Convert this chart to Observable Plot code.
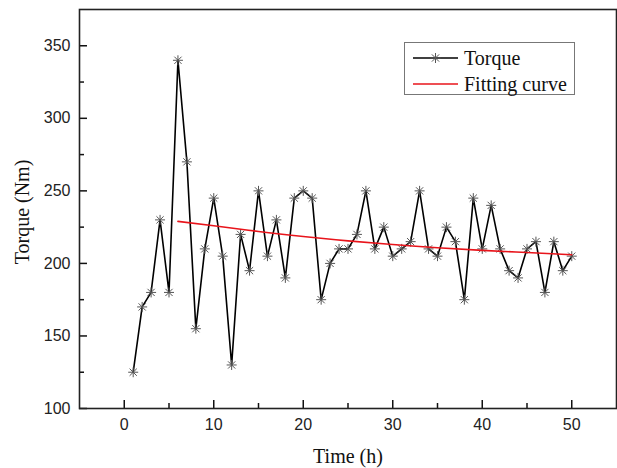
<!DOCTYPE html>
<html><head><meta charset="utf-8">
<script src="https://cdn.jsdelivr.net/npm/d3@7"></script>
<script src="https://cdn.jsdelivr.net/npm/@observablehq/plot@0.6"></script>
<style>
body{margin:0;background:#fff;}
#wrap{position:relative;width:617px;height:468px;}
#legend{position:absolute;left:404px;top:42px;width:169px;height:51px;border:1px solid #777;background:#fff;font-family:"Liberation Serif","Times New Roman",serif;font-size:20px;color:#111;}
#legend .row{position:absolute;left:0;height:24px;line-height:24px;}
#legend .row span{position:absolute;left:59px;top:0;white-space:nowrap;}
#legend svg{position:absolute;left:7px;top:0;}
</style></head><body><div id="wrap"></div>
<script>
const hours = [1,2,3,4,5,6,7,8,9,10,11,12,13,14,15,16,17,18,19,20,21,22,23,24,25,26,27,28,29,30,31,32,33,34,35,36,37,38,39,40,41,42,43,44,45,46,47,48,49,50];
const torque = [125,170,180,230,180,340,270,155,210,245,205,130,220,195,250,205,230,190,245,250,245,175,200,210,210,220,250,210,225,205,210,215,250,210,205,225,215,175,245,210,240,210,195,190,210,215,180,215,195,205];
const fitHours = [6,10,15,20,25,30,35,40,45,50];
const fitTorque = [229,226,222,218.5,215.5,213,210.8,209,207.5,206];
const xMajor = [0,10,20,30,40,50];
const xMinor = [5,15,25,35,45];
const yMajor = [100,150,200,250,300,350];
const yMinor = [125,175,225,275,325];
const seriesNames = ["Torque","Fitting curve"];

const data = hours.map((h,i)=>({h, t: torque[i]}));
const fit = fitHours.map((h,i)=>({h, t: fitTorque[i]}));

const star = {draw(ctx, size){
  const r = Math.sqrt(size/Math.PI), d = r*0.72;
  ctx.moveTo(-r,0);ctx.lineTo(r,0);ctx.moveTo(0,-r);ctx.lineTo(0,r);
  ctx.moveTo(-d,-d);ctx.lineTo(d,d);ctx.moveTo(-d,d);ctx.lineTo(d,-d);
}};

const W=617,H=468,mt=9,mb=60,ml=79,mr=1;
const ph = H-mt-mb, pw = W-ml-mr;
const sans = "Liberation Sans, Arial, sans-serif";
const serif = "Liberation Serif, Times New Roman, serif";

const chart = Plot.plot({
  width: W, height: H,
  marginTop: mt, marginBottom: mb, marginLeft: ml, marginRight: mr,
  x: {domain: [-5,55]},
  y: {domain: [100,375]},
  style: {background: "#fff"},
  marks: [
    Plot.axisX(xMajor, {tickSize: 0, tickPadding: 10, fontSize: 16, fontFamily: sans, label: null, color: "#222"}),
    Plot.axisY(yMajor, {tickSize: 0, tickPadding: 9, fontSize: 16, fontFamily: sans, label: null, color: "#222"}),
    Plot.tickX(xMajor, {x: d=>d, insetTop: ph-8, stroke: "#111", strokeWidth: 1.5}),
    Plot.tickX(xMinor, {x: d=>d, insetTop: ph-5, stroke: "#111", strokeWidth: 1.5}),
    Plot.tickY(yMajor, {y: d=>d, insetRight: pw-8, stroke: "#111", strokeWidth: 1.5}),
    Plot.tickY(yMinor, {y: d=>d, insetRight: pw-5, stroke: "#111", strokeWidth: 1.5}),
    Plot.line(data, {x: "h", y: "t", stroke: "#000", strokeWidth: 1.6}),
    Plot.dot(data, {x: "h", y: "t", symbol: star, r: 5, stroke: "#555", strokeWidth: 1, fill: "none"}),
    Plot.line(fit, {x: "h", y: "t", stroke: "#e8141b", strokeWidth: 1.6, curve: "natural"}),
    Plot.frame({stroke: "#222", strokeWidth: 1.6}),
    Plot.text(["Time (h)"], {frameAnchor: "bottom", dy: 48, text: d=>d, fontSize: 20, fontFamily: serif, fill: "#111", lineAnchor: "middle", textAnchor: "middle"}),
    Plot.text(["Torque (Nm)"], {frameAnchor: "left", dx: -57, dy: 3, rotate: -90, text: d=>d, fontSize: 20, fontFamily: serif, fill: "#111", lineAnchor: "middle", textAnchor: "middle"})
  ]
});
const wrap = document.getElementById("wrap");
wrap.appendChild(chart);

const leg = document.createElement("div");
leg.id = "legend";
const starPath = "M-5,0L5,0M0,-5L0,5M-3.6,-3.6L3.6,3.6M-3.6,3.6L3.6,-3.6";
leg.innerHTML =
  `<div class="row" style="top:3px;width:169px"><svg width="50" height="24"><line x1="1" x2="46" y1="12" y2="12" stroke="#000" stroke-width="1.6"/><path transform="translate(23.5,12)" d="${starPath}" stroke="#555" fill="none"/></svg><span>${seriesNames[0]}</span></div>` +
  `<div class="row" style="top:29px;width:169px"><svg width="50" height="24"><line x1="1" x2="46" y1="12" y2="12" stroke="#e8141b" stroke-width="1.6"/></svg><span>${seriesNames[1]}</span></div>`;
wrap.appendChild(leg);
</script></body></html>
